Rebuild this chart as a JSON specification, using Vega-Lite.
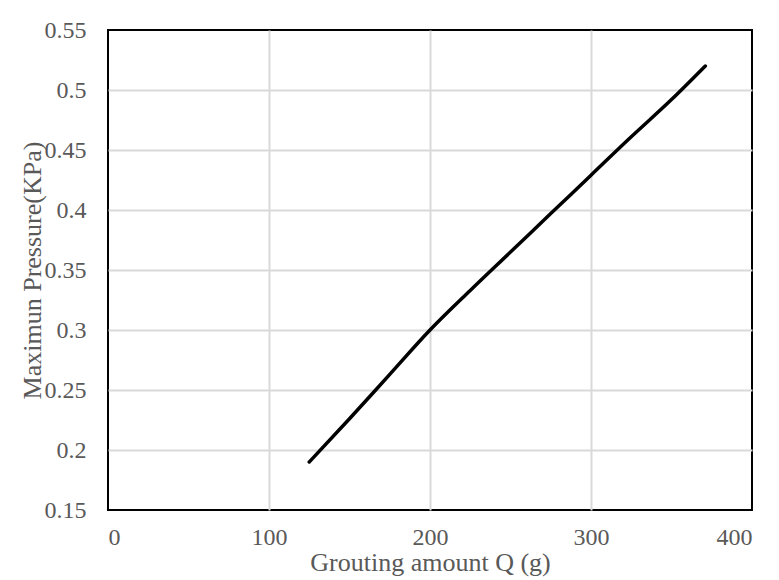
{
  "$schema": "https://vega.github.io/schema/vega-lite/v6.json",
  "width": 644,
  "height": 480,
  "autosize": {"type": "none"},
  "padding": {"left": 108, "top": 30, "right": 27, "bottom": 70},
  "background": "white",
  "config": {
    "view": {"stroke": "black", "strokeWidth": 2},
    "font": "Liberation Serif",
    "axis": {
      "labelFont": "Liberation Serif",
      "titleFont": "Liberation Serif",
      "labelColor": "#595959",
      "titleColor": "#595959",
      "labelFontSize": 24,
      "titleFontSize": 26,
      "titleFontWeight": "normal",
      "gridColor": "#d9d9d9",
      "gridWidth": 2,
      "domain": false,
      "ticks": false
    }
  },
  "data": {
    "values": [
      {"Q": 125, "P": 0.19},
      {"Q": 150, "P": 0.226},
      {"Q": 175, "P": 0.263},
      {"Q": 200, "P": 0.3},
      {"Q": 225, "P": 0.333},
      {"Q": 250, "P": 0.365},
      {"Q": 275, "P": 0.397},
      {"Q": 300, "P": 0.429},
      {"Q": 325, "P": 0.461},
      {"Q": 350, "P": 0.492},
      {"Q": 371, "P": 0.52}
    ]
  },
  "mark": {"type": "line", "color": "black", "strokeWidth": 3.5, "strokeCap": "round", "strokeJoin": "round", "interpolate": "monotone"},
  "encoding": {
    "x": {
      "field": "Q", "type": "quantitative",
      "scale": {"domain": [0, 400], "nice": false},
      "axis": {
        "values": [0, 100, 200, 300, 400],
        "title": "Grouting amount Q (g)",
        "labelPadding": 15,
        "titlePadding": 0,
        "gridOpacity": {"condition": {"test": "datum.value === 0 || datum.value === 400", "value": 0}, "value": 1}
      }
    },
    "y": {
      "field": "P", "type": "quantitative",
      "scale": {"domain": [0.15, 0.55], "nice": false, "zero": false},
      "axis": {
        "values": [0.15, 0.2, 0.25, 0.3, 0.35, 0.4, 0.45, 0.5, 0.55],
        "format": "~g",
        "title": "Maximun Pressure(KPa)",
        "labelPadding": 22,
        "titlePadding": -1,
        "labelFlush": false,
        "gridOpacity": {"condition": {"test": "datum.value < 0.16 || datum.value > 0.54", "value": 0}, "value": 1}
      }
    }
  }
}
